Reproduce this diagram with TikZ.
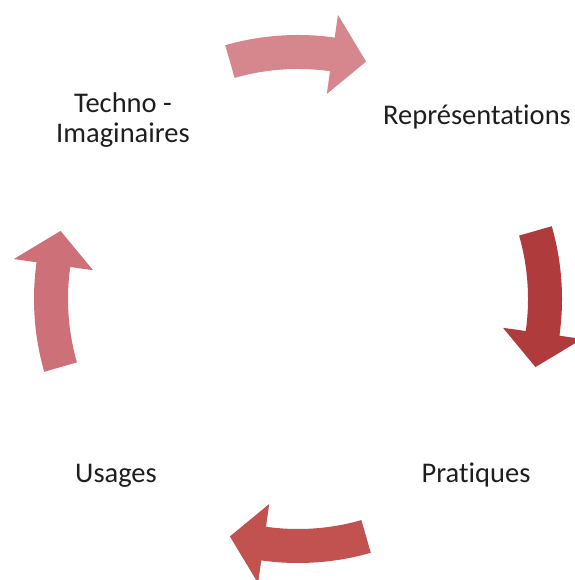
\documentclass[tikz,border=0pt]{standalone}
\usepackage{fontspec}
\setmainfont{Carlito}[Ligatures=NoCommon]
\definecolor{arrA}{RGB}{214,134,141}
\definecolor{arrB}{RGB}{176,59,61}
\definecolor{arrC}{RGB}{194,82,80}
\definecolor{arrD}{RGB}{206,112,120}
\definecolor{txt}{RGB}{30,30,30}
\newcommand{\cyclearrow}[2]{%
  \fill[#2,shift={(c)}]
    ({#1+16}:264pt) arc[start angle={#1+16}, end angle={#1-8}, radius=264pt]
    -- ({#1-8}:287pt) -- ({#1-16}:247pt) -- ({#1-8}:207pt) -- ({#1-8}:230pt)
    arc[start angle={#1-8}, end angle={#1+16}, radius=230pt] -- cycle;}
\begin{document}
\begin{tikzpicture}[x=1pt,y=1pt,
  lbl/.style={inner sep=0pt, text=txt, font=\fontsize{28.5}{30}\selectfont, align=center}]
\useasboundingbox (0,0) rectangle (574,580);
\coordinate (c) at (298,281);
\node[lbl, anchor=base] (rep) at (477,455) {Représentations};
\node[lbl, anchor=base] (pra) at (476,97) {Pratiques};
\node[lbl, anchor=base] (usa) at (116,97) {Usages};
\node[lbl] (tec) at (123,460) {Techno -\\Imaginaires};
\cyclearrow{90}{arrA}
\cyclearrow{0}{arrB}
\cyclearrow{-90}{arrC}
\cyclearrow{180}{arrD}
\end{tikzpicture}
\end{document}
